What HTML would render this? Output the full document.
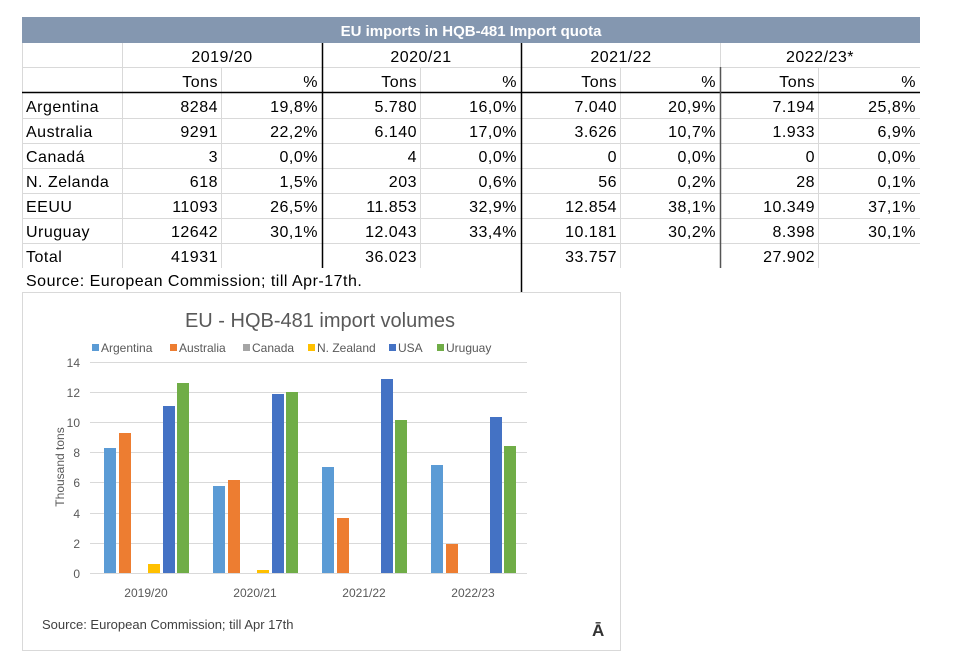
<!DOCTYPE html>
<html><head><meta charset="utf-8"><style>
body{margin:0;background:#fff;width:962px;height:666px;overflow:hidden}
svg text{font-family:"Liberation Sans",sans-serif}
</style></head><body>
<svg width="962" height="666" xmlns="http://www.w3.org/2000/svg">
<!-- table -->
<rect x="22" y="17" width="898" height="26" fill="#8497b0"/>
<text x="471" y="36" font-size="15" font-weight="bold" fill="#fff" text-anchor="middle">EU imports in HQB-481 Import quota</text>
<g stroke="#d9d9d9" stroke-width="1">
<line x1="22" y1="67.5" x2="920" y2="67.5"/>
<line x1="22" y1="118.5" x2="920" y2="118.5"/>
<line x1="22" y1="143.5" x2="920" y2="143.5"/>
<line x1="22" y1="168.5" x2="920" y2="168.5"/>
<line x1="22" y1="193.5" x2="920" y2="193.5"/>
<line x1="22" y1="218.5" x2="920" y2="218.5"/>
<line x1="22" y1="243.5" x2="920" y2="243.5"/>
<line x1="122.5" y1="43" x2="122.5" y2="268"/>
<line x1="221.5" y1="67" x2="221.5" y2="268"/>
<line x1="420.5" y1="67" x2="420.5" y2="268"/>
<line x1="620.5" y1="67" x2="620.5" y2="268"/>
<line x1="818.5" y1="67" x2="818.5" y2="268"/>
<line x1="720.5" y1="43" x2="720.5" y2="67"/>
<line x1="22.5" y1="43" x2="22.5" y2="268"/>
</g>
<line x1="22" y1="92.5" x2="920" y2="92.5" stroke="#000" stroke-width="1.5"/>
<line x1="322.5" y1="43" x2="322.5" y2="268" stroke="#000" stroke-width="1.5"/>
<line x1="521.5" y1="43" x2="521.5" y2="292" stroke="#000" stroke-width="1.5"/>
<line x1="720.5" y1="67" x2="720.5" y2="268" stroke="#555" stroke-width="1.5"/>
<g font-size="16" fill="#000" letter-spacing="0.5">
<g text-anchor="middle">
<text x="222" y="62">2019/20</text><text x="421" y="62">2020/21</text><text x="621" y="62">2021/22</text><text x="820" y="62">2022/23*</text>
</g>
<g text-anchor="end">
<text x="218" y="87">Tons</text><text x="318" y="87">%</text>
<text x="417" y="87">Tons</text><text x="517" y="87">%</text>
<text x="617" y="87">Tons</text><text x="716" y="87">%</text>
<text x="815" y="87">Tons</text><text x="916" y="87">%</text>
</g>
<text x="26" y="112">Argentina</text><text x="26" y="137">Australia</text><text x="26" y="162">Canadá</text>
<text x="26" y="187">N. Zelanda</text><text x="26" y="212">EEUU</text><text x="26" y="237">Uruguay</text><text x="26" y="262">Total</text>
<g text-anchor="end">
<text x="218" y="112">8284</text><text x="318" y="112">19,8%</text><text x="417" y="112">5.780</text><text x="517" y="112">16,0%</text><text x="617" y="112">7.040</text><text x="716" y="112">20,9%</text><text x="815" y="112">7.194</text><text x="916" y="112">25,8%</text>
<text x="218" y="137">9291</text><text x="318" y="137">22,2%</text><text x="417" y="137">6.140</text><text x="517" y="137">17,0%</text><text x="617" y="137">3.626</text><text x="716" y="137">10,7%</text><text x="815" y="137">1.933</text><text x="916" y="137">6,9%</text>
<text x="218" y="162">3</text><text x="318" y="162">0,0%</text><text x="417" y="162">4</text><text x="517" y="162">0,0%</text><text x="617" y="162">0</text><text x="716" y="162">0,0%</text><text x="815" y="162">0</text><text x="916" y="162">0,0%</text>
<text x="218" y="187">618</text><text x="318" y="187">1,5%</text><text x="417" y="187">203</text><text x="517" y="187">0,6%</text><text x="617" y="187">56</text><text x="716" y="187">0,2%</text><text x="815" y="187">28</text><text x="916" y="187">0,1%</text>
<text x="218" y="212">11093</text><text x="318" y="212">26,5%</text><text x="417" y="212">11.853</text><text x="517" y="212">32,9%</text><text x="617" y="212">12.854</text><text x="716" y="212">38,1%</text><text x="815" y="212">10.349</text><text x="916" y="212">37,1%</text>
<text x="218" y="237">12642</text><text x="318" y="237">30,1%</text><text x="417" y="237">12.043</text><text x="517" y="237">33,4%</text><text x="617" y="237">10.181</text><text x="716" y="237">30,2%</text><text x="815" y="237">8.398</text><text x="916" y="237">30,1%</text>
<text x="218" y="262">41931</text><text x="417" y="262">36.023</text><text x="617" y="262">33.757</text><text x="815" y="262">27.902</text>
</g>
<text x="26" y="286">Source: European Commission; till Apr-17th.</text>
</g>
<!-- chart -->
<rect x="22.5" y="292.5" width="598" height="358" fill="#fff" stroke="#d9d9d9"/>
<text x="320" y="327" font-size="20" fill="#595959" text-anchor="middle">EU - HQB-481 import volumes</text>
<g font-size="12" fill="#595959">
<rect x="92" y="344" width="7" height="7" fill="#5b9bd5"/><text x="101" y="352">Argentina</text>
<rect x="170" y="344" width="7" height="7" fill="#ed7d31"/><text x="179" y="352">Australia</text>
<rect x="243" y="344" width="7" height="7" fill="#a5a5a5"/><text x="252" y="352">Canada</text>
<rect x="308" y="344" width="7" height="7" fill="#ffc000"/><text x="317" y="352">N. Zealand</text>
<rect x="389" y="344" width="7" height="7" fill="#4472c4"/><text x="398" y="352">USA</text>
<rect x="437" y="344" width="7" height="7" fill="#70ad47"/><text x="446" y="352">Uruguay</text>
</g>
<g stroke="#d9d9d9" stroke-width="1">
<line x1="90" y1="362.5" x2="527" y2="362.5"/><line x1="90" y1="392.5" x2="527" y2="392.5"/>
<line x1="90" y1="422.5" x2="527" y2="422.5"/><line x1="90" y1="452.5" x2="527" y2="452.5"/>
<line x1="90" y1="482.5" x2="527" y2="482.5"/><line x1="90" y1="513.5" x2="527" y2="513.5"/>
<line x1="90" y1="543.5" x2="527" y2="543.5"/><line x1="90" y1="573.5" x2="527" y2="573.5"/>
</g>
<g font-size="12" fill="#595959" text-anchor="end">
<text x="80" y="367">14</text><text x="80" y="397">12</text><text x="80" y="427">10</text><text x="80" y="457">8</text>
<text x="80" y="487">6</text><text x="80" y="518">4</text><text x="80" y="548">2</text><text x="80" y="578">0</text>
</g>
<text transform="translate(64,467) rotate(-90)" font-size="12" fill="#595959" text-anchor="middle">Thousand tons</text>
<g font-size="12" fill="#595959" text-anchor="middle">
<text x="146" y="597">2019/20</text><text x="255" y="597">2020/21</text><text x="364" y="597">2021/22</text><text x="473" y="597">2022/23</text>
</g>
<g>
<rect x="104" y="448" width="12" height="125" fill="#5b9bd5"/>
<rect x="119" y="433" width="12" height="140" fill="#ed7d31"/>
<rect x="148" y="564" width="12" height="9" fill="#ffc000"/>
<rect x="163" y="406" width="12" height="167" fill="#4472c4"/>
<rect x="177" y="383" width="12" height="190" fill="#70ad47"/>

<rect x="213" y="486" width="12" height="87" fill="#5b9bd5"/>
<rect x="228" y="480" width="12" height="93" fill="#ed7d31"/>
<rect x="257" y="570" width="12" height="3" fill="#ffc000"/>
<rect x="272" y="394" width="12" height="179" fill="#4472c4"/>
<rect x="286" y="392" width="12" height="181" fill="#70ad47"/>

<rect x="322" y="467" width="12" height="106" fill="#5b9bd5"/>
<rect x="337" y="518" width="12" height="55" fill="#ed7d31"/>
<rect x="381" y="379" width="12" height="194" fill="#4472c4"/>
<rect x="395" y="420" width="12" height="153" fill="#70ad47"/>

<rect x="431" y="465" width="12" height="108" fill="#5b9bd5"/>
<rect x="446" y="544" width="12" height="29" fill="#ed7d31"/>
<rect x="490" y="417" width="12" height="156" fill="#4472c4"/>
<rect x="504" y="446" width="12" height="127" fill="#70ad47"/>
</g>
<text x="42" y="629" font-size="13" fill="#404040">Source: European Commission; till Apr 17th</text>
<text x="592" y="636" font-size="17" font-weight="bold" fill="#333">Ā</text>
</svg>
</body></html>
